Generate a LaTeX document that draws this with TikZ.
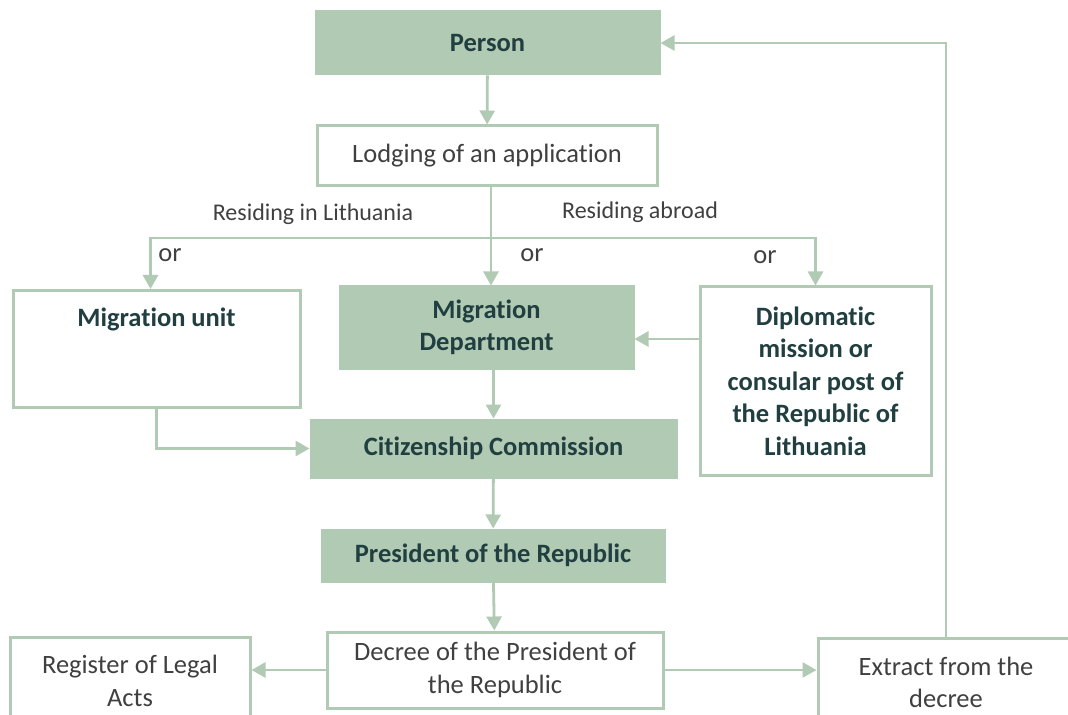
\documentclass[tikz,border=0pt]{standalone}
\usepackage{fontspec}
\setmainfont{Carlito}[Ligatures=NoCommon]
\usepackage{tikz}
\usetikzlibrary{arrows.meta, positioning}

\definecolor{sage}{HTML}{B1CAB4}
\definecolor{slate}{HTML}{213F40}
\definecolor{ink}{HTML}{404040}

\begin{document}
\begin{tikzpicture}[
  x=0.5pt, y=-0.5pt,
  box/.style={rectangle, draw=sage, line width=1.5pt, fill=white,
              align=center, inner sep=2pt, text=ink,
              font=\fontsize{13.25}{16.25}\selectfont},
  keybox/.style={box, fill=sage, text=slate,
              font=\fontsize{13.25}{16.25}\selectfont\bfseries},
  boldbox/.style={box, text=slate,
              font=\fontsize{13.25}{16.25}\selectfont\bfseries},
  arrow/.style={-{Triangle[length=7pt, width=7.5pt]}, draw=sage, line width=1.4pt},
  tag/.style={text=ink, inner sep=0pt, font=\fontsize{13.25}{16.25}\selectfont},
  path/.style={text=ink, inner sep=0pt, font=\fontsize{12}{14}\selectfont},
]
  \useasboundingbox (0,0) rectangle (1068,715);

  \node[keybox, minimum width=171.5pt, minimum height=31pt] (person) at (487.5,43) {Person};
  \node[box, minimum width=170pt, minimum height=30pt] (lodging) at (487,156) {Lodging of an application};
  \node[boldbox, anchor=north, minimum width=143.5pt, text height=16.25pt, text depth=38.25pt]
    (migunit) at (156.5,289) {Migration unit};
  \node[keybox, minimum width=146.5pt, minimum height=40.5pt] (migdept) at (486.5,327.5) {Migration\\Department};
  \node[boldbox, minimum width=115.5pt, minimum height=94pt] (diplo) at (815.5,381)
    {Diplomatic\\mission or\\consular post of\\the Republic of\\Lithuania};
  \node[keybox, minimum width=182.5pt, minimum height=28.5pt] (citizen) at (493.5,448.5) {Citizenship Commission};
  \node[keybox, minimum width=171pt, minimum height=25.5pt] (president) at (493,555.5) {President of the Republic};
  \node[box, minimum width=168pt, minimum height=38pt] (decree) at (495,670) {Decree of the President of\\the Republic};
  \node[box, minimum width=120pt, minimum height=44pt] (register) at (130,681) {Register of Legal\\Acts};
  \node[box, minimum width=128pt, minimum height=44.5pt] (extract) at (946,682.5) {Extract from the\\decree};

  \node[path] (lithuania) at (313,214) {Residing in Lithuania};
  \node[path] (abroad)    at (640,212) {Residing abroad};
  \node[tag] (orleft)  at (170,255) {or};
  \node[tag] (ormid)   at (532,255) {or};
  \node[tag] (orright) at (765,257) {or};

  \coordinate (fork) at (491,238);

  \draw[arrow] (person) -- (lodging);
  \draw[sage, line width=1.4pt] (lodging.south -| fork) -- (fork);
  \draw[arrow] (fork) -- (fork |- migdept.north);
  \draw[arrow] (fork) -| ([xshift=-3pt]migunit.north);
  \draw[arrow] (fork) -| (diplo.north);
  \draw[arrow] (diplo.west |- 0,339) -- (migdept.east |- 0,339);
  \draw[arrow] (migdept.south -| citizen.north) -- (citizen.north);
  \draw[arrow] (migunit.south) |- (citizen.west);
  \draw[arrow] (citizen) -- (president);
  \draw[arrow] (president) -- (decree);
  \draw[arrow] (decree.west) -- (decree.west -| register.east);
  \draw[arrow] (decree.east) -- (decree.east -| extract.west);
  \draw[arrow] (extract.north) |- (person.east);
\end{tikzpicture}
\end{document}
